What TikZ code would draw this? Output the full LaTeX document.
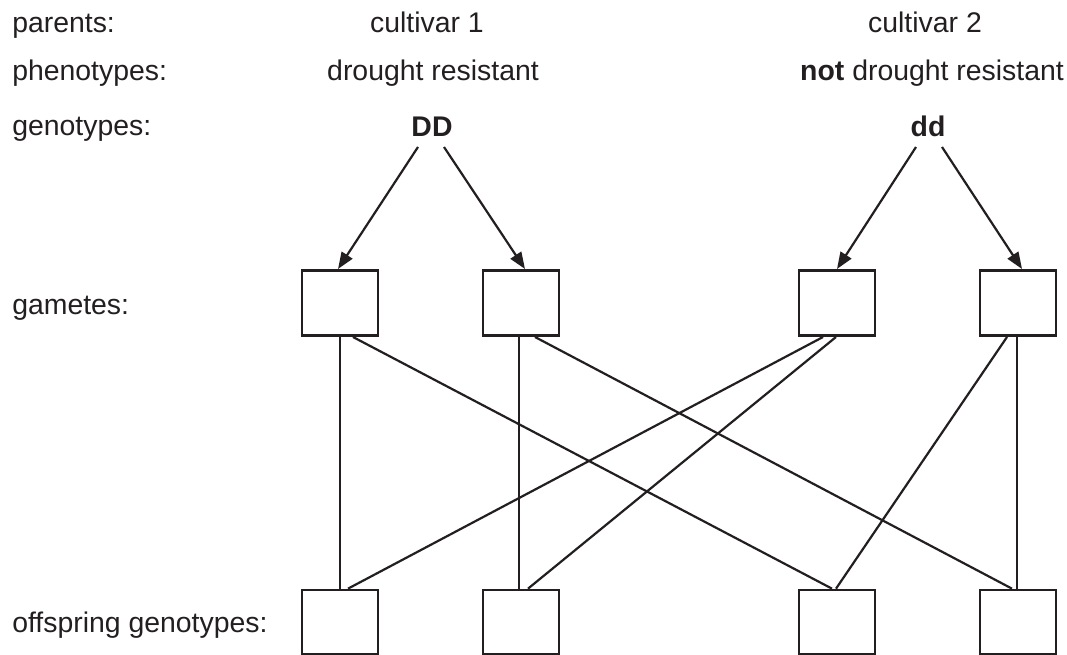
\documentclass[tikz,border=0pt]{standalone}
\usepackage{fontspec}
\setmainfont{Liberation Sans}
\usetikzlibrary{arrows.meta,calc}
\definecolor{ink}{HTML}{231F20}
\begin{document}
\begin{tikzpicture}[x=0.75pt,y=-0.75pt,
  every node/.style={text=ink,font=\fontsize{21.3}{25}\selectfont,inner sep=0pt},
  lbl/.style={anchor=base west},
  ctr/.style={anchor=base},
  box/.style={draw=ink,line width=2pt,minimum width=57pt,minimum height=49pt},
  obox/.style={draw=ink,line width=2pt,minimum width=57pt,minimum height=48pt},
  link/.style={draw=ink,line width=1.65pt},
  arr/.style={draw=ink,line width=1.65pt,-{Triangle[length=12.5pt,width=9.5pt]}}]
\useasboundingbox (0,0) rectangle (1067,655);
% left labels
\node[lbl] (lp) at (12,33) {parents:};
\node[lbl] (lph) at (12,81) {phenotypes:};
\node[lbl] (lg) at (12,136) {genotypes:};
\node[lbl] (lga) at (12,315) {gametes:};
\node[lbl] (lo) at (12,632) {offspring genotypes:};
% parent columns
\node[ctr] (c1) at (427,33) {cultivar 1};
\node[ctr] (p1) at (433,81) {drought resistant};
\node[ctr] (DD) at (432,137) {\bfseries DD};
\node[ctr] (c2) at (925,33) {cultivar 2};
\node[ctr] (p2) at (932,81) {\bfseries not\mdseries{} drought resistant};
\node[ctr] (dd) at (928,137) {\bfseries dd};
% gamete boxes
\node[box] (g1) at (340,303) {};
\node[box] (g2) at (521,303) {};
\node[box] (g3) at (837,303) {};
\node[box] (g4) at (1018,303) {};
% offspring boxes
\node[obox] (o1) at (340,622) {};
\node[obox] (o2) at (521,622) {};
\node[obox] (o3) at (837,622) {};
\node[obox] (o4) at (1018,622) {};
% arrows
\draw[arr] ($(DD.base)+(-14,10)$) -- ($(g1.north)+(-2,0)$);
\draw[arr] ($(DD.base)+(12,10)$) -- ($(g2.north)+(4,0)$);
\draw[arr] ($(dd.base)+(-12,10)$) -- ($(g3.north)+(0,0)$);
\draw[arr] ($(dd.base)+(14,10)$) -- ($(g4.north)+(4,0)$);
% links
\draw[link] (g1.south) -- (o1.north);
\draw[link] ($(g1.south)+(13,0)$) -- ($(o3.north)+(-5,0)$);
\draw[link] ($(g2.south)+(-2,0)$) -- ($(o2.north)+(-2,0)$);
\draw[link] ($(g2.south)+(14,0)$) -- ($(o4.north)+(-6,0)$);
\draw[link] ($(g3.south)+(-14,0)$) -- ($(o1.north)+(8,0)$);
\draw[link] ($(g3.south)+(-1,0)$) -- ($(o2.north)+(7,0)$);
\draw[link] ($(g4.south)+(-11,0)$) -- ($(o3.north)+(-1,0)$);
\draw[link] ($(g4.south)+(-1,0)$) -- ($(o4.north)+(-1,0)$);
\end{tikzpicture}
\end{document}
